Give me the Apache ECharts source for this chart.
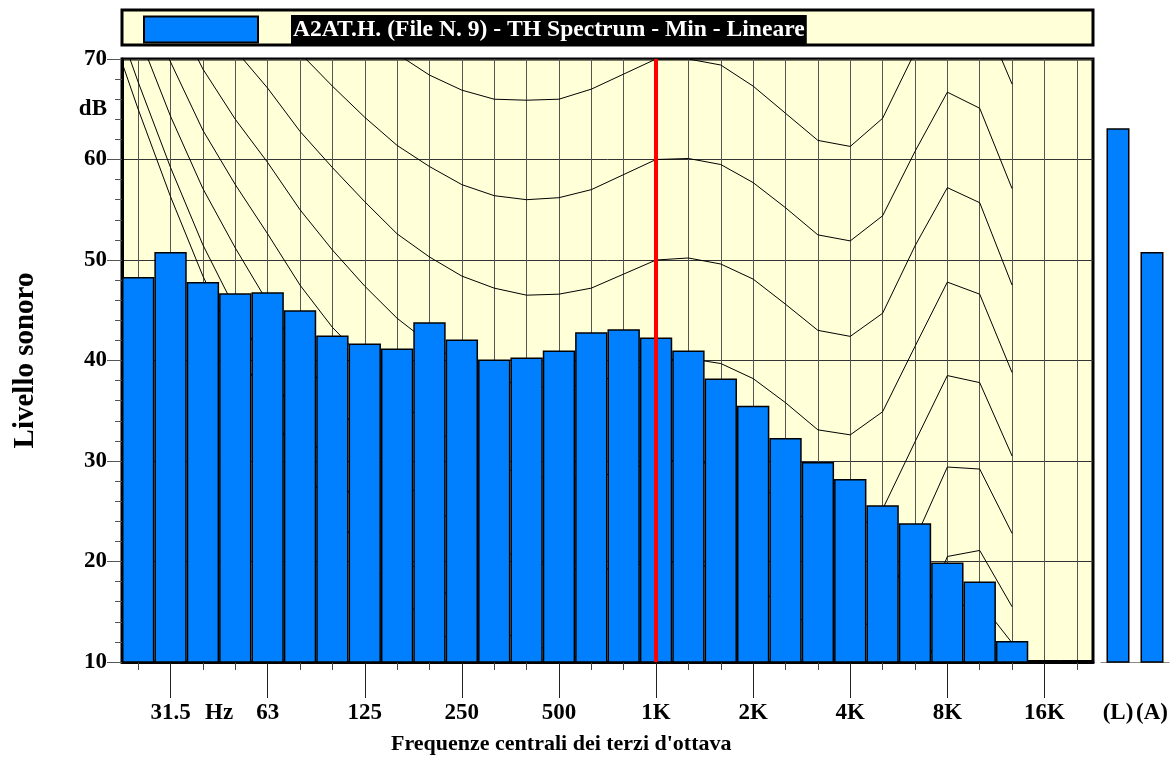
<!DOCTYPE html>
<html>
<head>
<meta charset="utf-8">
<script src="https://cdn.jsdelivr.net/npm/echarts@6/dist/echarts.min.js"></script>
<style>
html,body{margin:0;padding:0;background:#fff;}
#chart{width:1173px;height:765px;}
</style>
</head>
<body>
<div id="chart"></div>
<script>
// ---- data ----
const seriesName = "A2AT.H. (File N. 9) - TH Spectrum - Min - Lineare";
const bands = ['25','31.5','40','50','63','80','100','125','160','200','250','315','400','500','630','800','1K','1.25K','1.6K','2K','2.5K','3.15K','4K','5K','6.3K','8K','10K','12.5K','16K','20K'];
const levels = [48.3,50.8,47.8,46.7,46.8,45.0,42.5,41.7,41.2,43.8,42.1,40.1,40.3,41.0,42.8,43.1,42.3,41.0,38.2,35.5,32.3,29.9,28.2,25.6,23.8,19.9,18.0,12.1,10.2,10.2];
const totalCats = ['(L)','(A)'];
const totals = [63.1, 50.8];

// isophonic curves, read at the band centres 20 Hz ... 12.5 kHz
const curveBands = ['20','25','31.5','40','50','63','80','100','125','160','200','250','315','400','500','630','800','1K','1.25K','1.6K','2K','2.5K','3.15K','4K','5K','6.3K','8K','10K','12.5K'];
const curveThreshold = [74.3,65.0,56.3,48.4,41.7,35.5,29.8,25.1,20.7,16.8,13.8,11.2,8.9,7.2,6.0,5.0,4.4,4.2,3.7,2.6,1.0,-1.2,-3.6,-3.9,-1.1,6.6,15.3,16.0,11.9];
const curve10 = [76.8,67.7,59.2,51.5,45.1,39.2,33.7,29.1,24.8,21.0,18.1,15.6,13.4,11.9,10.9,10.1,9.9,10.0,9.7,8.7,7.2,5.0,2.6,2.2,4.8,12.4,20.5,21.1,15.5];
const curve20 = [81.3,72.5,64.3,57.1,51.2,45.8,40.5,36.2,32.1,28.5,25.7,23.3,21.4,20.1,19.4,19.1,19.4,20.0,19.9,19.2,17.7,15.4,13.0,12.5,15.0,22.2,29.4,29.2,22.8];
const curve30 = [86.0,77.6,69.7,62.9,57.5,52.6,47.5,43.3,40.0,36.2,33.5,31.4,29.6,28.6,28.2,28.3,29.0,30.0,30.1,29.5,28.0,25.7,23.2,22.6,25.2,31.9,38.5,37.8,30.5];
const curve40 = [91.0,82.9,75.4,69.0,64.0,59.7,55.0,51.0,47.4,44.2,41.7,39.7,38.2,37.4,37.3,37.7,38.7,40.0,40.2,39.7,38.2,35.8,33.1,32.6,34.9,41.4,47.8,46.6,38.8];
const curve50 = [96.2,88.5,81.3,75.4,70.9,67.1,62.8,59.2,55.8,52.6,50.3,48.4,47.2,46.5,46.6,47.2,48.6,50.0,50.2,49.6,48.1,45.6,43.0,42.4,44.7,51.4,57.2,55.7,47.5];
const curve60 = [101.7,94.4,87.6,82.1,78.0,74.8,70.6,67.3,64.2,61.4,59.3,57.5,56.4,56.0,56.2,57.0,58.5,60.0,60.1,59.5,57.7,55.2,52.5,51.9,54.4,60.8,66.7,65.1,57.1];
const curve70 = [107.6,100.7,94.3,89.2,85.5,82.8,78.9,75.8,73.0,70.5,68.4,66.9,66.0,65.9,66.0,67.0,68.5,70.0,70.0,69.4,67.3,64.6,61.9,61.3,64.1,70.7,76.5,75.1,67.5];
const curves = [curveThreshold, curve10, curve20, curve30, curve40, curve50, curve60, curve70];

const octaveTickLabels = ['31.5','63','125','250','500','1K','2K','4K','8K','16K'];
const unitLabel = 'Hz';          // written between the 40 and 50 Hz bands
const unitBetween = ['40','50'];
const markerBand = '1K';
const yMin = 10, yMax = 70, yStep = 10;
const yTickValues = [10, 20, 30, 40, 50, 60, 70];
const yUnitLabel = 'dB', yUnitAt = 65;

// ---- derived ----
const FONT = '"Liberation Serif", "Times New Roman", serif';
const bandIndex = b => bands.indexOf(b);
const octavePos = octaveTickLabels.map(bandIndex);
const unitPos = (bandIndex(unitBetween[0]) + bandIndex(unitBetween[1])) / 2;
const labelPos = octavePos.concat([unitPos]);
const labelText = {};
octaveTickLabels.forEach((t, k) => { labelText[octavePos[k]] = t; });
labelText[unitPos] = unitLabel;
const centres = bands.map((b, i) => i);
const curveOffset = bandIndex(curveBands[1]) - 1; // curveBands[0] lies one band left of bands[0]

const chart = echarts.init(document.getElementById('chart'), null, {renderer: 'canvas'});
const curveSeries = curves.map((c, k) => ({
  type: 'line', name: 'curve' + k, xAxisIndex: 1, yAxisIndex: 0,
  data: c.map((v, i) => [i + curveOffset, v]),
  symbol: 'none', silent: true, clip: true, z: 1,
  lineStyle: {color: '#000', width: 1}
}));

const option = {
  animation: false,
  backgroundColor: '#fff',
  graphic: [{
    type: 'rect', z: 0, silent: true,
    shape: {x: 122, y: 10, width: 971, height: 35},
    style: {fill: '#FFFFD8', stroke: '#000', lineWidth: 3}
  }],
  title: {
    text: "Frequenze centrali dei terzi d'ottava",
    left: 391, top: 733, padding: 0,
    textStyle: {fontFamily: FONT, fontWeight: 'bold', fontSize: 22, color: '#000'}
  },
  legend: {
    data: [seriesName], left: 143, top: 15, padding: 0, z: 10,
    icon: 'rect', itemWidth: 114, itemHeight: 26,
    formatter: n => '{g|}{t|' + n + '}',
    textStyle: {
      rich: {
        g: {width: 28},
        t: {color: '#fff', backgroundColor: '#000', fontFamily: FONT, fontWeight: 'bold', fontSize: 23.6, padding: [3, 2, 2, 2]}
      }
    }
  },
  grid: [
    {left: 122, top: 59, width: 971, height: 603, show: true, backgroundColor: '#FFFFD8', borderColor: '#000', borderWidth: 3},
    {left: 1101, top: 59, width: 68, height: 603}
  ],
  xAxis: [
    {type: 'category', gridIndex: 0, data: bands, show: false},
    {type: 'value', gridIndex: 0, min: -0.5, max: 29.5, position: 'bottom',
      axisLine: {show: true, onZero: false, lineStyle: {color: '#000', width: 3}},
      axisTick: {show: true, customValues: centres, length: 8, lineStyle: {color: '#444'}},
      axisLabel: {show: false},
      splitLine: {show: true, lineStyle: {color: '#555', width: 1}}
    },
    {type: 'value', gridIndex: 0, min: -0.5, max: 29.5, position: 'bottom',
      axisLine: {show: false, onZero: false},
      axisTick: {show: true, customValues: octavePos, length: 36, lineStyle: {color: '#222'}},
      axisLabel: {show: true, customValues: labelPos, margin: 40,
        formatter: v => labelText[v] || '',
        fontFamily: FONT, fontWeight: 'bold', fontSize: 23, color: '#000'},
      splitLine: {show: false}
    },
    {type: 'category', gridIndex: 1, data: totalCats, position: 'bottom',
      axisLine: {show: true, onZero: false, lineStyle: {color: '#888', width: 1}},
      axisTick: {show: false},
      axisLabel: {interval: 0, margin: 40, fontFamily: FONT, fontWeight: 'bold', fontSize: 23, color: '#000'}
    }
  ],
  yAxis: [
    {type: 'value', gridIndex: 0, min: yMin, max: yMax, interval: yStep,
      name: 'Livello sonoro', nameLocation: 'middle', nameGap: 82, nameRotate: 90,
      nameTextStyle: {fontFamily: FONT, fontWeight: 'bold', fontSize: 29, color: '#000'},
      axisLine: {show: true, onZero: false, lineStyle: {color: '#000', width: 3}},
      axisTick: {show: true, length: 15, lineStyle: {color: '#555'}},
      minorTick: {show: true, splitNumber: 5, length: 7, lineStyle: {color: '#555'}},
      axisLabel: {customValues: yTickValues.concat([yUnitAt]), margin: 15,
        formatter: v => (v === yUnitAt ? yUnitLabel : String(v)),
        fontFamily: FONT, fontWeight: 'bold', fontSize: 23, color: '#000'},
      splitLine: {show: true, lineStyle: {color: '#333', width: 1}}
    },
    {type: 'value', gridIndex: 1, min: yMin, max: yMax, interval: yStep, show: false}
  ],
  series: curveSeries.concat([
    {
      type: 'bar', name: seriesName, xAxisIndex: 0, yAxisIndex: 0, data: levels,
      barCategoryGap: '0%', z: 3, clip: true,
      itemStyle: {color: '#0080FF', borderColor: '#000', borderWidth: 1.5},
      markLine: {
        silent: true, symbol: ['none', 'none'], label: {show: false},
        lineStyle: {color: '#FF0000', width: 4, type: 'solid'},
        data: [{xAxis: markerBand}]
      }
    },
    {
      type: 'bar', name: seriesName, xAxisIndex: 3, yAxisIndex: 1, data: totals,
      barWidth: 23, z: 3,
      itemStyle: {color: '#0080FF', borderColor: '#000', borderWidth: 1.5}
    }
  ])
};
chart.setOption(option);
</script>
</body>
</html>
